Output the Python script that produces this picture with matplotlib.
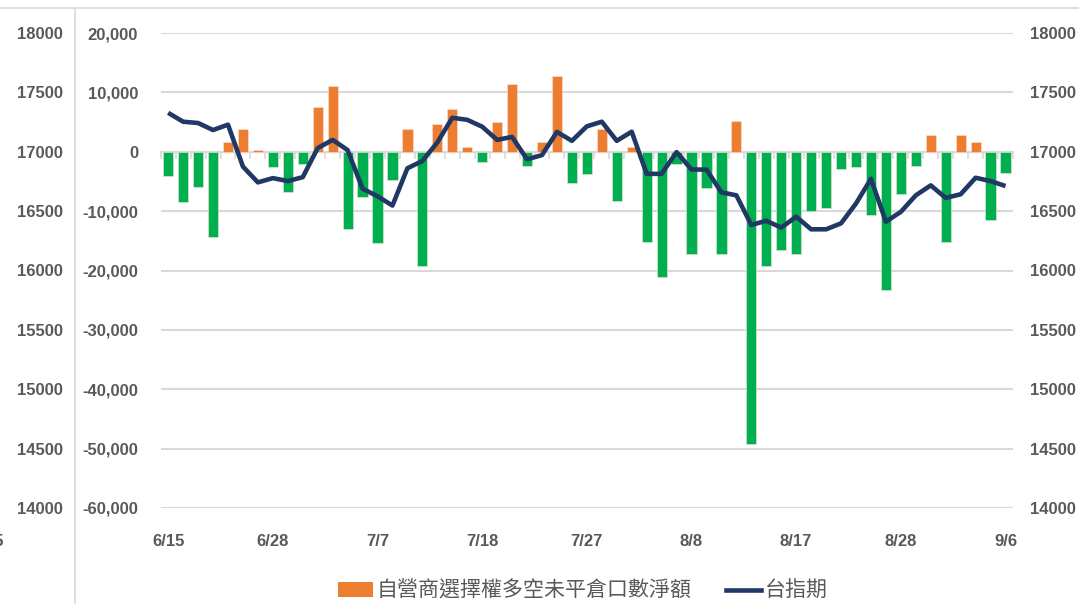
import numpy as np
import matplotlib.pyplot as plt
from matplotlib.lines import Line2D
from matplotlib.patches import Patch
from matplotlib.ticker import FuncFormatter

# data
tick_labels = ['6/15', '6/28', '7/7', '7/18', '7/27', '8/8', '8/17', '8/28', '9/6']
label_step = 7

# 自營商選擇權多空未平倉口數淨額 (left-middle axis)
net_oi = [-4100, -8440, -5940, -14280, 1720, 3780, 280, -2610, -6780, -2110,
          7560, 11110, -12940, -7610, -15440, -4720, 3780, -19280, 4670, 7280,
          830, -1780, 4940, 11330, -2440, 1720, 12830, -5280, -3780, 3780,
          -8280, 830, -15280, -21110, -2110, -17280, -6110, -17280, 5220, -49200,
          -19280, -16610, -17280, -9940, -9440, -2940, -2610, -10610, -23300, -7060,
          -2440, 2890, -15280, 2890, 1720, -11440, -3610]

# 台指期 (right axis)
taiex_fut = [17328, 17253, 17242, 17183, 17228, 16875, 16742, 16778, 16753, 16786,
             17031, 17100, 17014, 16689, 16625, 16547, 16861, 16922, 17078, 17286,
             17269, 17211, 17100, 17125, 16936, 16972, 17167, 17092, 17214, 17253,
             17092, 17169, 16814, 16814, 16997, 16850, 16850, 16658, 16633, 16383,
             16419, 16361, 16453, 16347, 16347, 16397, 16564, 16772, 16411, 16494,
             16633, 16717, 16611, 16642, 16781, 16753, 16711]

bar_name = '自營商選擇權多空未平倉口數淨額'
line_name = '台指期'

ORANGE = '#ED7D31'
GREEN = '#00B050'
NAVY = '#203864'
GRID = '#D9D9D9'
TXT = '#595959'

W, H = 1079, 604
tick_font = dict(family='Liberation Sans', weight='bold', size=12)

fig = plt.figure(figsize=(W / 100, H / 100), dpi=100)

# plot area in pixels: x 160.7..1013, y 33..508
left, right, top, bottom = 160.7, 1013, 33, 508
rect = [left / W, 1 - bottom / H, (right - left) / W, (bottom - top) / H]

ax = fig.add_axes(rect)
x = np.arange(len(net_oi))
colors = [ORANGE if v >= 0 else GREEN for v in net_oi]
ax.bar(x, net_oi, width=0.68, color=colors, edgecolor='#FBE3D6', linewidth=0.4, zorder=2)
ax.set_xlim(-0.5, len(net_oi) - 0.5)
ax.set_ylim(-60000, 20000)
ax.set_yticks(np.arange(-60000, 20001, 10000))
ax.yaxis.set_major_formatter(FuncFormatter(lambda v, p: f'{v:,.0f}'))
ax.grid(axis='y', color=GRID, lw=1.5, zorder=0)
ax.set_axisbelow(True)
for s in ['top', 'right', 'left']:
    ax.spines[s].set_visible(False)
ax.spines['bottom'].set_position(('data', 0))
ax.spines['bottom'].set_color(GRID)
ax.spines['bottom'].set_linewidth(1.5)
ax.spines['bottom'].set_zorder(1)
ax.tick_params(axis='y', length=0, pad=16.3, labelcolor=TXT)
ax.set_xticks(x[::label_step], tick_labels)
ax.set_xticks(np.arange(-0.5, len(net_oi), 1), minor=True)
ax.tick_params(axis='x', which='major', length=0, pad=275, labelcolor=TXT)
ax.tick_params(axis='x', which='minor', length=5, width=1.2, color=GRID)
for lab in ax.get_xticklabels() + ax.get_yticklabels():
    lab.set(**tick_font)

# right axis with the futures line
ax2 = ax.twinx()
ax2.plot(x, taiex_fut, color=NAVY, lw=3.3, zorder=3, solid_capstyle='butt')
ax2.set_ylim(14000, 18000)
ax2.set_yticks(np.arange(14000, 18001, 500))
for s in ax2.spines.values():
    s.set_visible(False)
ax2.tick_params(axis='y', length=0, pad=12.5, labelcolor=TXT)
for lab in ax2.get_yticklabels():
    lab.set(**tick_font)

# duplicate scale on the far left
ax3 = fig.add_axes(rect, frameon=False)
ax3.set_ylim(14000, 18000)
ax3.set_yticks(np.arange(14000, 18001, 500))
ax3.set_xticks([])
ax3.tick_params(axis='y', length=0, pad=70.6, labelcolor=TXT)
for lab in ax3.get_yticklabels():
    lab.set(**tick_font)
ax3.patch.set_visible(False)

# border lines of the outer chart (cropped)
fig.add_artist(Line2D([0, 1], [1 - 8 / H, 1 - 8 / H], color=GRID, lw=1.2))
fig.add_artist(Line2D([74.5 / W, 74.5 / W], [0, 1 - 8 / H], color=GRID, lw=1.2))
fig.text(4 / W, 1 - 541 / H, '15', ha='right', va='center', color=TXT, **tick_font)

handles = [Patch(facecolor=ORANGE), Line2D([], [], color=NAVY, lw=3.3)]
leg = fig.legend(handles, [bar_name, line_name], loc='center', ncol=2,
                 bbox_to_anchor=(583 / W, 1 - 591 / H), frameon=False,
                 prop=dict(family=['Noto Sans CJK TC', 'DejaVu Sans'], size=15.1),
                 handlelength=1.65, handleheight=0.72, handletextpad=0.2,
                 columnspacing=1.65, borderpad=0)
for t in leg.get_texts():
    t.set_color(TXT)

fig.savefig('out.png', dpi=100)
